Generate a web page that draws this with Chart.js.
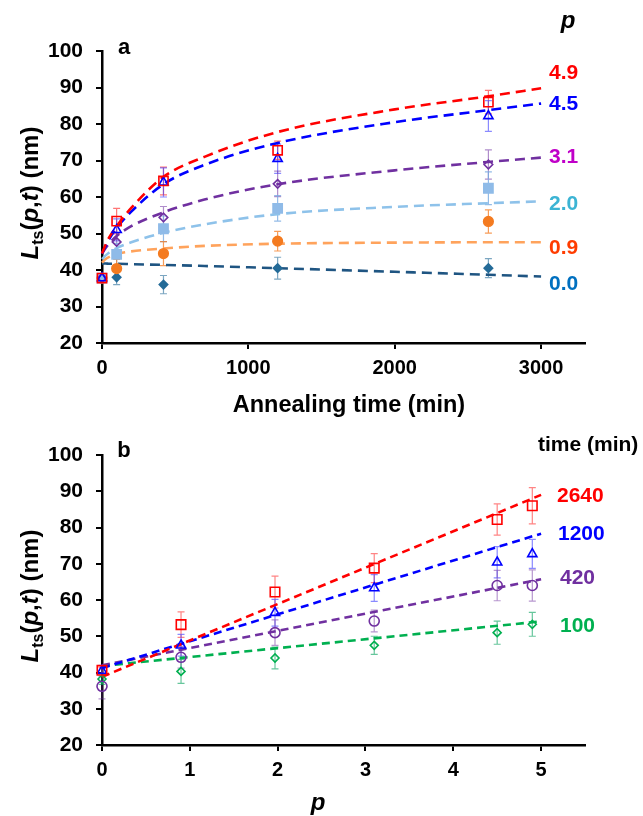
<!DOCTYPE html>
<html><head><meta charset="utf-8">
<script src="https://cdn.jsdelivr.net/npm/chart.js@4.4.0/dist/chart.umd.min.js"></script>
<style>
html,body{margin:0;padding:0;background:#fff;}
#wrap{position:relative;width:643px;height:816px;overflow:hidden;font-family:"Liberation Sans",Arial,sans-serif;font-weight:bold;}
canvas{position:absolute;left:0;}
.t{position:absolute;white-space:nowrap;line-height:1;font-weight:bold;}
.c{transform:translate(-50%,-50%);}
.l{transform:translate(0,-50%);}
.rot{transform:translate(-50%,-50%) rotate(-90deg);}
i{font-style:italic;}
</style></head><body>
<div id="wrap">
<canvas id="ca" width="643" height="425" style="top:0"></canvas>
<canvas id="cb" width="643" height="391" style="top:425px"></canvas>

<div class="t c" style="left:124px;top:47px;font-size:22px;color:#000">a</div>
<div class="t c" style="left:568px;top:20px;font-size:24px;color:#000"><i>p</i></div>
<div class="t l" style="left:549px;top:71px;font-size:21px;color:#ff0000">4.9</div>
<div class="t l" style="left:549px;top:102px;font-size:21px;color:#0000ff">4.5</div>
<div class="t l" style="left:549px;top:155px;font-size:21px;color:#c000c8">3.1</div>
<div class="t l" style="left:549px;top:202px;font-size:21px;color:#3cb4d4">2.0</div>
<div class="t l" style="left:549px;top:246px;font-size:21px;color:#ff3c00">0.9</div>
<div class="t l" style="left:549px;top:282px;font-size:21px;color:#0070c0">0.0</div>
<div class="t rot" style="left:30px;top:193px;font-size:24px;color:#000"><i>L</i><span style="font-size:16px;position:relative;top:5px">ts</span>(<i>p</i>,<i>t</i>) (nm)</div>
<div class="t c" style="left:349px;top:405px;font-size:23.5px;color:#000">Annealing time (min)</div>

<div class="t c" style="left:124px;top:450px;font-size:22px;color:#000">b</div>
<div class="t l" style="left:538px;top:443px;font-size:21px;color:#000">time (min)</div>
<div class="t l" style="left:557px;top:494px;font-size:21px;color:#ff0000">2640</div>
<div class="t l" style="left:558px;top:532px;font-size:21px;color:#0000ff">1200</div>
<div class="t l" style="left:560px;top:576px;font-size:21px;color:#7030a0">420</div>
<div class="t l" style="left:560px;top:624px;font-size:21px;color:#00b050">100</div>
<div class="t rot" style="left:30px;top:596px;font-size:24px;color:#000"><i>L</i><span style="font-size:16px;position:relative;top:5px">ts</span>(<i>p</i>,<i>t</i>) (nm)</div>
<div class="t c" style="left:318px;top:802px;font-size:24px;color:#000"><i>p</i></div>
</div>

<script>
// ---------- Panel a data (x = annealing time, min) ----------
const timesA = [0, 100, 420, 1200, 2640];
const Lp49 = [37.8, 53.4, 64.4, 72.8, 86.0];
const Lp45 = [37.8, 51.0, 64.0, 70.5, 82.2];
const Lp31 = [37.8, 47.7, 54.4, 63.6, 68.9];
const Lp20 = [37.8, 44.3, 51.3, 56.9, 62.4];
const Lp09 = [37.8, 40.4, 44.5, 47.9, 53.3];
const Lp00 = [37.8, 38.0, 36.0, 40.5, 40.5];
const Ep49 = [0.8, 3.5, 3.8, 2.5, 3.2];
const Ep45 = [0.8, 3.0, 4.0, 4.0, 4.2];
const Ep31 = [0.8, 2.5, 3.0, 3.5, 4.0];
const Ep20 = [0.8, 3.0, 3.5, 3.5, 4.5];
const Ep09 = [0.8, 2.5, 3.3, 2.7, 3.2];
const Ep00 = [0.8, 2.0, 2.5, 3.0, 2.6];
// fitted curves
const fitTimes = [0, 25, 50, 100, 200, 420, 700, 1200, 2000, 2640, 3000];
const Fp49 = [44.5, 47.0, 49.0, 52.0, 57.0, 65.5, 71.0, 77.8, 84.0, 87.6, 89.8];
const Fp45 = [44.5, 46.5, 48.5, 51.5, 56.0, 63.5, 68.8, 74.8, 80.5, 83.8, 85.6];
const Fp31 = [44.5, 46.0, 47.3, 49.3, 52.0, 55.8, 59.3, 63.5, 67.3, 69.6, 70.8];
const Fp20 = [43.0, 44.0, 44.8, 46.0, 47.6, 50.2, 52.5, 55.3, 57.3, 58.3, 58.8];
const Fp09 = [42.0, 43.0, 43.6, 44.4, 45.1, 45.9, 46.6, 47.2, 47.5, 47.6, 47.6];
const Fp00 = [41.8, 41.8, 41.7, 41.7, 41.6, 41.4, 41.1, 40.5, 39.5, 38.7, 38.2];
const xTicksA = [0, 1000, 2000, 3000];

// ---------- Panel b data (x = p) ----------
const pValues = [0, 0.9, 1.97, 3.1, 4.5, 4.9];
const Lt2640 = [40.6, 53.2, 62.2, 68.8, 82.2, 86.0];
const Lt1200 = [40.5, 47.5, 56.5, 63.3, 70.4, 72.7];
const Lt420  = [36.2, 44.2, 51.0, 54.2, 64.0, 64.0];
const Lt100  = [38.2, 40.3, 44.0, 47.5, 51.0, 53.3];
const Et2640 = [0.8, 3.5, 4.4, 4.0, 4.3, 5.0];
const Et1200 = [1.5, 3.0, 3.7, 3.7, 4.3, 4.0];
const Et420  = [3.5, 3.0, 3.5, 3.0, 4.2, 4.3];
const Et100  = [1.5, 3.3, 3.0, 2.5, 3.2, 3.3];
const fitP = [0, 5.0];
const Ft2640 = [38.8, 89.0];
const Ft1200 = [41.2, 78.3];
const Ft420  = [42.0, 65.7];
const Ft100  = [41.8, 54.1];
const xTicksB = [0, 1, 2, 3, 4, 5];
const yTicks = [20, 30, 40, 50, 60, 70, 80, 90, 100];

const FONT = '"Liberation Sans", Arial, sans-serif';
const pts = (xs, ys) => xs.map((x, i) => ({x: x, y: ys[i]}));

function markers(xs, ys, errs, style, radius, color, fill, errColor) {
  return {
    data: pts(xs, ys), errors: errs, errColor: errColor,
    showLine: false, pointStyle: style, pointRadius: radius,
    pointBorderColor: color, pointBackgroundColor: fill,
    pointBorderWidth: 1.6, clip: false, order: 0
  };
}
function fitLine(xs, ys, color, dash, curved) {
  return {
    data: pts(xs, ys), showLine: true, pointRadius: 0,
    borderColor: color, borderWidth: 2.6, borderDash: dash,
    cubicInterpolationMode: curved ? 'monotone' : 'default',
    tension: 0, clip: false, order: 1
  };
}

const errorBars = {
  id: 'errorBars',
  beforeDatasetsDraw(chart) {
    const ctx = chart.ctx, xs = chart.scales.x, ys = chart.scales.y;
    ctx.save();
    chart.data.datasets.forEach(ds => {
      if (!ds.errors) return;
      ctx.strokeStyle = ds.errColor;
      ctx.lineWidth = 1.2;
      ds.data.forEach((p, j) => {
        const e = ds.errors[j];
        const x = xs.getPixelForValue(p.x);
        const y1 = ys.getPixelForValue(p.y - e), y2 = ys.getPixelForValue(p.y + e);
        ctx.beginPath();
        ctx.moveTo(x, y1); ctx.lineTo(x, y2);
        ctx.moveTo(x - 3.5, y1); ctx.lineTo(x + 3.5, y1);
        ctx.moveTo(x - 3.5, y2); ctx.lineTo(x + 3.5, y2);
        ctx.stroke();
      });
    });
    ctx.restore();
  }
};

function makeChart(canvas, cfg) {
  return new Chart(canvas, {
    type: 'scatter',
    data: {datasets: cfg.datasets},
    options: {
      responsive: false, animation: false, devicePixelRatio: 1,
      layout: {padding: {top: cfg.padTop, right: 58, left: 0, bottom: 0}},
      plugins: {legend: {display: false}, tooltip: {enabled: false}},
      scales: {
        x: {
          type: 'linear', min: cfg.xMin, max: cfg.xMax,
          afterBuildTicks: s => { s.ticks = cfg.xTicks.map(v => ({value: v})); },
          afterFit: s => { s.height = cfg.xAxisH; },
          border: {display: true, color: '#000', width: 2.5},
          grid: {drawOnChartArea: false, drawTicks: true, tickLength: 6, color: '#000', lineWidth: 2},
          ticks: {color: '#000', font: {family: FONT, size: 20, weight: 'bold'}, padding: 7, maxRotation: 0, autoSkip: false,
                  callback: v => String(v)}
        },
        y: {
          type: 'linear', min: 20, max: 100,
          afterBuildTicks: s => { s.ticks = yTicks.map(v => ({value: v})); },
          afterFit: s => { s.width = 102; },
          border: {display: true, color: '#000', width: 2.5},
          grid: {drawOnChartArea: false, drawTicks: true, tickLength: 6, color: '#000', lineWidth: 2},
          ticks: {color: '#000', font: {family: FONT, size: 21, weight: 'bold'}, padding: 13, autoSkip: false,
                  callback: v => String(v)}
        }
      }
    },
    plugins: [errorBars]
  });
}

const dashA = [10, 6];
makeChart(document.getElementById('ca'), {
  padTop: 51, xAxisH: 82, xMin: 0, xMax: 3300, xTicks: xTicksA,
  datasets: [
    markers(timesA, Lp49, Ep49, 'rect', 6.5, '#ff0000', 'rgba(0,0,0,0)', 'rgba(255,60,60,0.7)'),
    markers(timesA, Lp45, Ep45, 'triangle', 5.3, '#0000ff', 'rgba(0,0,0,0)', 'rgba(60,60,255,0.6)'),
    markers(timesA, Lp31, Ep31, 'rectRot', 4.3, '#7030a0', 'rgba(0,0,0,0)', 'rgba(112,48,160,0.55)'),
    markers(timesA, Lp20, Ep20, 'rect', 6.5, '#8fbbe8', '#8fbbe8', 'rgba(120,170,225,0.8)'),
    markers(timesA, Lp09, Ep09, 'circle', 4.8, '#f47b20', '#f47b20', 'rgba(244,123,32,0.75)'),
    markers(timesA, Lp00, Ep00, 'rectRot', 4.2, '#246b98', '#246b98', 'rgba(36,107,152,0.6)'),
    fitLine(fitTimes, Fp49, '#ff0000', dashA, true),
    fitLine(fitTimes, Fp45, '#0000ff', dashA, true),
    fitLine(fitTimes, Fp31, '#7030a0', dashA, true),
    fitLine(fitTimes, Fp20, '#8ec2ea', dashA, true),
    fitLine(fitTimes, Fp09, '#ffa35c', dashA, true),
    fitLine(fitTimes, Fp00, '#1f5582', dashA, true)
  ]
});

const dashB = [8, 5];
makeChart(document.getElementById('cb'), {
  padTop: 30, xAxisH: 71, xMin: 0, xMax: 5.5, xTicks: xTicksB,
  datasets: [
    markers(pValues, Lt2640, Et2640, 'rect', 6.7, '#ff0000', 'rgba(0,0,0,0)', 'rgba(255,80,80,0.7)'),
    markers(pValues, Lt1200, Et1200, 'triangle', 5.3, '#0000ff', 'rgba(0,0,0,0)', 'rgba(60,60,255,0.6)'),
    markers(pValues, Lt420, Et420, 'circle', 5, '#7030a0', 'rgba(0,0,0,0)', 'rgba(112,48,160,0.5)'),
    markers(pValues, Lt100, Et100, 'rectRot', 4, '#00b050', 'rgba(0,0,0,0)', 'rgba(0,160,90,0.6)'),
    fitLine(fitP, Ft2640, '#ff0000', dashB, false),
    fitLine(fitP, Ft1200, '#0000ff', dashB, false),
    fitLine(fitP, Ft420, '#7030a0', dashB, false),
    fitLine(fitP, Ft100, '#00b050', dashB, false)
  ]
});
</script>
</body></html>
